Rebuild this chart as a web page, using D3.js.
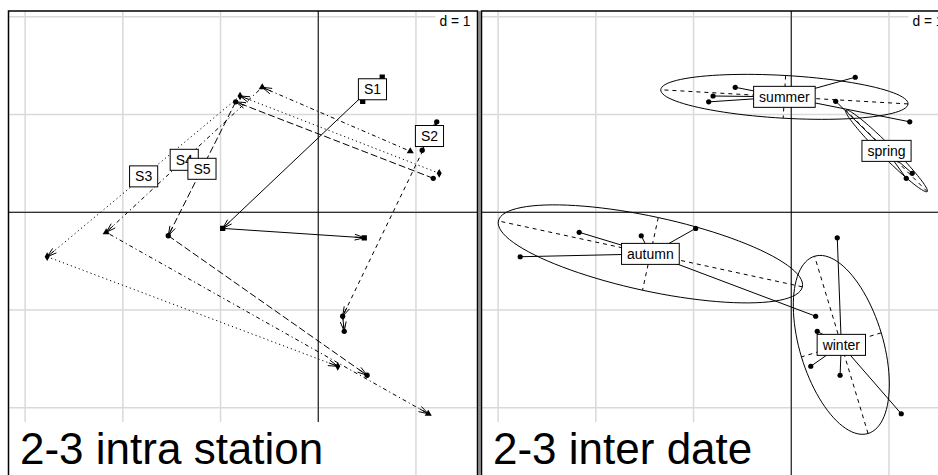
<!DOCTYPE html>
<html>
<head>
<meta charset="utf-8">
<script src="https://cdn.jsdelivr.net/npm/d3@7"></script>
<style>
  html, body { margin: 0; padding: 0; background: #fff; }
  svg { display: block; font-family: "Liberation Sans", Arial, sans-serif; }
</style>
</head>
<body>
<svg id="chart" width="938" height="475"></svg>
<script>
// Sampling dates, in trajectory order
const seasons = ["spring", "summer", "autumn", "winter"];
// Stations along the stream
const stations = ["S1", "S2", "S3", "S4", "S5"];
// Scores on axis 2 (one row per station, one column per season)
const axis2 = [
  [0.455,  0.655, -0.978, 0.471],
  [1.064,  1.213,  0.250, 0.266],
  [1.238, -0.800, -2.774, 0.200],
  [0.942, -0.573, -2.170, 1.126],
  [1.177, -0.845, -1.535, 0.500]
];
// Scores on axis 3
const axis3 = [
  [1.136, 1.382, -0.165, -0.261],
  [0.635, 0.926, -1.064, -1.218],
  [0.399, 1.190, -0.455, -1.576],
  [0.624, 1.279, -0.205, -2.062],
  [0.348, 1.130, -0.240, -1.668]
];
const panelTitles = ["2-3 intra station", "2-3 inter date"];
const gridStep = 1;

// ---- layout ----
const svg = d3.select("#chart");
const panelSize = 469;
const xDomain = [-3.17, 1.63];
const yDomain = [2.06, -2.74];
const panels = [{ x0: 8.5, y0: 11 }, { x0: 481.5, y0: 11 }];
const gridColor = "#d9d9d9";
const labelFont = 14;

// line type and point symbol of each station's trajectory
const stationDash = ["none", "4,4", "1.2,3", "1.2,3,4,3", "7,3"];
const stationSymbol = [d3.symbolSquare, d3.symbolCircle, d3.symbolDiamond, d3.symbolTriangle, d3.symbolCircle];
// which segment of each trajectory carries the station label
const labelSegment = [0, 0, 1, 1, 1];

function labelBox(g, cx, cy, txt) {
  const t = g.append("text")
    .attr("x", cx).attr("y", cy + 5)
    .attr("text-anchor", "middle")
    .attr("font-size", labelFont)
    .attr("fill", "#000")
    .text(txt);
  const w = t.node().getComputedTextLength();
  g.insert("rect", () => t.node())
    .attr("x", cx - w / 2 - 5.5).attr("y", cy - 10.5)
    .attr("width", w + 11).attr("height", 21)
    .attr("fill", "#fff").attr("stroke", "#000").attr("stroke-width", 1);
}

function arrow(g, ax, ay, bx, by, dash) {
  const d0 = Math.hypot(bx - ax, by - ay);
  if (d0 < 1e-7) return;
  g.append("line")
    .attr("x1", ax).attr("y1", ay).attr("x2", bx).attr("y2", by)
    .attr("stroke", "#000").attr("stroke-width", 1)
    .attr("stroke-dasharray", dash);
  const h = 9.5;
  let sx = ax, sy = ay;
  if (d0 > 2 * h) { sx = bx - h * (bx - ax) / d0; sy = by - h * (by - ay) / d0; }
  g.append("line")
    .attr("x1", sx).attr("y1", sy).attr("x2", bx).attr("y2", by)
    .attr("stroke", "#000").attr("stroke-width", 1);
  const ang = Math.atan2(by - ay, bx - ax);
  const len = 10, a = 17 * Math.PI / 180;
  g.append("path")
    .attr("d", `M${bx - len * Math.cos(ang - a)},${by - len * Math.sin(ang - a)}L${bx},${by}L${bx - len * Math.cos(ang + a)},${by - len * Math.sin(ang + a)}`)
    .attr("fill", "none").attr("stroke", "#000").attr("stroke-width", 1);
}

function drawPanel(idx, drawContent) {
  const p = panels[idx];
  const x = d3.scaleLinear().domain(xDomain).range([p.x0, p.x0 + panelSize]);
  const y = d3.scaleLinear().domain(yDomain).range([p.y0, p.y0 + panelSize]);
  const clipId = "clip" + idx;
  svg.append("clipPath").attr("id", clipId).append("rect")
    .attr("x", p.x0).attr("y", p.y0).attr("width", panelSize).attr("height", panelSize);
  const g = svg.append("g").attr("clip-path", `url(#${clipId})`);
  g.append("rect").attr("x", p.x0).attr("y", p.y0)
    .attr("width", panelSize).attr("height", panelSize).attr("fill", "#fff");

  // grid
  const gx = d3.range(Math.ceil(xDomain[0] / gridStep) * gridStep, xDomain[1] + 1e-9, gridStep);
  const gy = d3.range(Math.ceil(yDomain[1] / gridStep) * gridStep, yDomain[0] + 1e-9, gridStep);
  g.selectAll(null).data(gx).join("line")
    .attr("x1", d => x(d)).attr("x2", d => x(d))
    .attr("y1", p.y0).attr("y2", p.y0 + panelSize)
    .attr("stroke", gridColor).attr("stroke-width", 1.5);
  g.selectAll(null).data(gy).join("line")
    .attr("y1", d => y(d)).attr("y2", d => y(d))
    .attr("x1", p.x0).attr("x2", p.x0 + panelSize)
    .attr("stroke", gridColor).attr("stroke-width", 1.5);

  // grid size label
  const dt = g.append("text")
    .attr("x", p.x0 + panelSize - 7).attr("y", p.y0 + 15)
    .attr("text-anchor", "end").attr("font-size", 13.8)
    .text("d = " + gridStep);
  const dw = dt.node().getComputedTextLength();
  g.insert("rect", () => dt.node())
    .attr("x", p.x0 + panelSize - 7 - dw - 4).attr("y", p.y0)
    .attr("width", dw + 12).attr("height", 19).attr("fill", "#fff");

  // axes through the origin
  g.append("line").attr("x1", x(0)).attr("x2", x(0)).attr("y1", p.y0).attr("y2", p.y0 + panelSize)
    .attr("stroke", "#000").attr("stroke-width", 1);
  g.append("line").attr("y1", y(0)).attr("y2", y(0)).attr("x1", p.x0).attr("x2", p.x0 + panelSize)
    .attr("stroke", "#000").attr("stroke-width", 1);

  drawContent(g, x, y);

  // sub-title
  const st = g.append("text")
    .attr("x", p.x0 + 11.5).attr("y", 463.5)
    .attr("font-size", 44).attr("fill", "#000")
    .text(panelTitles[idx]);
  const sw = st.node().getComputedTextLength();
  g.insert("rect", () => st.node())
    .attr("x", p.x0).attr("y", 422)
    .attr("width", sw + 24).attr("height", p.y0 + panelSize - 422)
    .attr("fill", "#fff");

  // frame
  svg.append("rect").attr("x", p.x0).attr("y", p.y0)
    .attr("width", panelSize).attr("height", panelSize)
    .attr("fill", "none").attr("stroke", "#000").attr("stroke-width", 1.5);
}

// separator between the two panels
svg.append("rect").attr("x", 478.3).attr("y", 11).attr("width", 2.4).attr("height", 464).attr("fill", "#8a8a8a");

// ---- left panel: trajectories of each station through the seasons ----
drawPanel(0, (g, x, y) => {
  stations.forEach((s, i) => {
    const pts = seasons.map((_, j) => [x(axis2[i][j]), y(axis3[i][j])]);
    for (let j = 0; j < pts.length - 1; j++) {
      arrow(g, pts[j][0], pts[j][1], pts[j + 1][0], pts[j + 1][1], stationDash[i]);
    }
    g.selectAll(null).data(pts).join("path")
      .attr("transform", d => `translate(${d[0]},${d[1]})`)
      .attr("d", d3.symbol().type(stationSymbol[i]).size(i === 0 ? 28 : 22))
      .attr("fill", "#000");
  });
  stations.forEach((s, i) => {
    const k = labelSegment[i];
    const mx = (x(axis2[i][k]) + x(axis2[i][k + 1])) / 2;
    const my = (y(axis3[i][k]) + y(axis3[i][k + 1])) / 2;
    labelBox(g, mx, my, s);
  });
});

// ---- right panel: dates as classes with stars and 1.5 s.d. ellipses ----
function ellipse(mx, my, vx, cxy, vy, coeff) {
  const delta = Math.sqrt((vx - vy) * (vx - vy) + 4 * cxy * cxy);
  let l1 = (vx + vy + delta) / 2;
  let l2 = vx + vy - l1;
  l1 = Math.sqrt(Math.max(l1, 0));
  l2 = Math.sqrt(Math.max(l2, 0));
  let a0, b0;
  if (vx === 0) { a0 = 0; b0 = 1; }
  else if (vy === 0) { a0 = 1; b0 = 0; }
  else if (Math.abs(cxy) < 1e-10) { if (vx > vy) { a0 = 1; b0 = 0; } else { a0 = 0; b0 = 1; } }
  else { a0 = 1; b0 = (l1 * l1 - vx) / cxy; const n = Math.hypot(a0, b0); a0 /= n; b0 /= n; }
  const c11 = coeff * a0 * l1, c12 = -coeff * b0 * l2, c21 = coeff * b0 * l1, c22 = coeff * a0 * l2;
  const ring = d3.range(100).map(k => {
    const t = 2 * Math.PI * k / 100;
    return [mx + c11 * Math.cos(t) + c12 * Math.sin(t), my + c21 * Math.cos(t) + c22 * Math.sin(t)];
  });
  return {
    ring,
    seg1: [mx + c11, my + c21, mx - c11, my - c21],
    seg2: [mx + c12, my + c22, mx - c12, my - c22]
  };
}

drawPanel(1, (g, x, y) => {
  const classes = seasons.map((s, j) => {
    const xs = axis2.map(r => r[j]), ys = axis3.map(r => r[j]);
    const mx = d3.mean(xs), my = d3.mean(ys);
    const vx = d3.mean(xs, v => (v - mx) ** 2);
    const vy = d3.mean(ys, v => (v - my) ** 2);
    const cxy = d3.mean(xs.map((v, k) => (v - mx) * (ys[k] - my)));
    return { s, xs, ys, mx, my, ell: ellipse(mx, my, vx, cxy, vy, 1.5) };
  });
  const line = d3.line().x(d => x(d[0])).y(d => y(d[1]));
  classes.forEach(c => {
    c.xs.forEach((v, k) => {
      g.append("line").attr("x1", x(c.mx)).attr("y1", y(c.my))
        .attr("x2", x(v)).attr("y2", y(c.ys[k]))
        .attr("stroke", "#000").attr("stroke-width", 1);
    });
    g.selectAll(null).data(c.xs.map((v, k) => [v, c.ys[k]])).join("circle")
      .attr("cx", d => x(d[0])).attr("cy", d => y(d[1])).attr("r", 2.6).attr("fill", "#000");
  });
  classes.forEach(c => {
    g.append("path").attr("d", line(c.ell.ring) + "Z")
      .attr("fill", "none").attr("stroke", "#000").attr("stroke-width", 1);
    [c.ell.seg1, c.ell.seg2].forEach(sg => {
      g.append("line").attr("x1", x(sg[0])).attr("y1", y(sg[1]))
        .attr("x2", x(sg[2])).attr("y2", y(sg[3]))
        .attr("stroke", "#000").attr("stroke-width", 1).attr("stroke-dasharray", "4,4");
    });
  });
  classes.forEach(c => labelBox(g, x(c.mx), y(c.my), c.s));
});
</script>
</body>
</html>
